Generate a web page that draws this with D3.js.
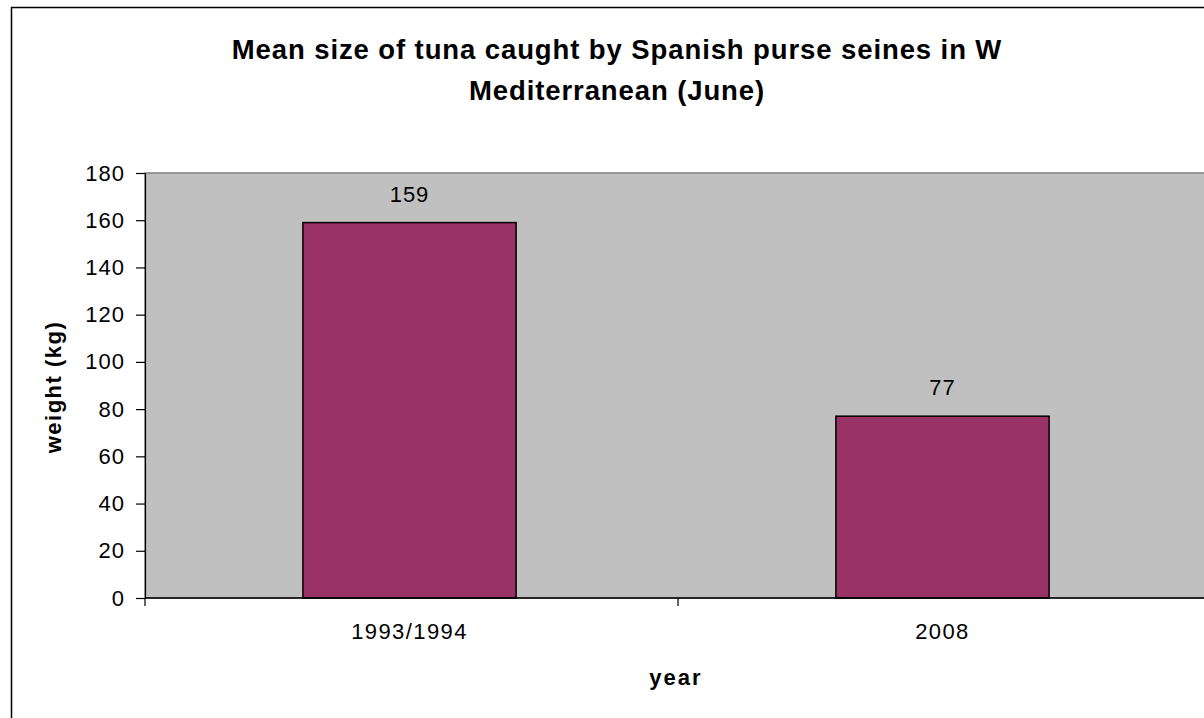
<!DOCTYPE html>
<html><head><meta charset="utf-8">
<script src="https://cdn.jsdelivr.net/npm/d3@7"></script>
<style>body{margin:0;background:#fff;} svg{display:block;font-family:"Liberation Sans",Arial,sans-serif;}</style>
</head><body>
<svg id="c" width="1204" height="718"></svg>
<script>
const categories = ["1993/1994", "2008"];
const values = [159, 77];
const yTicks = [0, 20, 40, 60, 80, 100, 120, 140, 160, 180];
const titleLines = ["Mean size of tuna caught by Spanish purse seines in W", "Mediterranean (June)"];

const svg = d3.select("#c");
const L = 145, T = 173, R = 1211, B = 598;
const FONT = "Liberation Sans, Arial, sans-serif";

svg.append("rect").attr("x", 11.5).attr("y", 7.5).attr("width", 1224).attr("height", 730)
  .attr("fill", "#fff").attr("stroke", "#000").attr("stroke-width", 1.5);

const x = d3.scaleBand().domain(categories).range([L, R]).paddingInner(0.6).paddingOuter(0.3);
const xc = d3.scaleBand().domain(categories).range([L, R]);
const y = d3.scaleLinear().domain([0, 180]).range([B, T]);

svg.append("rect").attr("x", L).attr("y", T).attr("width", R - L).attr("height", B - T)
  .attr("fill", "#C0C0C0").attr("stroke", "#808080").attr("stroke-width", 1.5);

svg.selectAll(".bar").data(values).enter().append("rect")
  .attr("x", (d, i) => x(categories[i]) - 2)
  .attr("y", d => y(d))
  .attr("width", x.bandwidth())
  .attr("height", d => B - y(d))
  .attr("fill", "#993366").attr("stroke", "#000").attr("stroke-width", 1.5);

svg.selectAll(".vl").data(values).enter().append("text")
  .attr("x", (d, i) => x(categories[i]) - 2 + x.bandwidth() / 2)
  .attr("y", d => y(d) - 21)
  .attr("text-anchor", "middle").attr("font-size", 22).attr("letter-spacing", 1).attr("fill", "#000")
  .text(d => d);

// y axis
const ya = svg.append("g").attr("transform", `translate(${L},0)`)
  .call(d3.axisLeft(y).tickValues(yTicks).tickSize(9).tickPadding(11).tickSizeOuter(0));
ya.select(".domain").attr("stroke", "#000").attr("stroke-width", 1.2);
ya.selectAll(".tick line").attr("stroke", "#000").attr("stroke-width", 1.2);
ya.selectAll("text").attr("font-size", 22).attr("letter-spacing", 1).attr("fill", "#000").attr("font-family", FONT);

// x axis
const xa = svg.append("g").attr("transform", `translate(0,${B})`);
xa.append("line").attr("x1", L).attr("x2", R).attr("y1", 0).attr("y2", 0).attr("stroke", "#000").attr("stroke-width", 1.5);
const bounds = categories.map(c => xc(c)).concat([R]);
xa.selectAll(".xt").data(bounds).enter().append("line")
  .attr("x1", d => d).attr("x2", d => d).attr("y1", 0).attr("y2", 8)
  .attr("stroke", "#000").attr("stroke-width", 1.2);
xa.selectAll(".xl").data(categories).enter().append("text")
  .attr("x", d => xc(d) + xc.bandwidth() / 2 - 2).attr("y", 41)
  .attr("text-anchor", "middle").attr("font-size", 22).attr("letter-spacing", 1.4).attr("fill", "#000").text(d => d);

svg.append("text").attr("x", 676).attr("y", 685).attr("text-anchor", "middle")
  .attr("font-size", 22).attr("letter-spacing", 2).attr("font-weight", "bold").text("year");

svg.append("text").attr("transform", "translate(61,387) rotate(-90)").attr("text-anchor", "middle")
  .attr("font-size", 22).attr("letter-spacing", 1.5).attr("font-weight", "bold").text("weight (kg)");

svg.selectAll(".tt").data(titleLines).enter().append("text")
  .attr("x", 617).attr("y", (d, i) => 59 + i * 41).attr("text-anchor", "middle")
  .attr("font-size", 27.5).attr("letter-spacing", 0.9).attr("font-weight", "bold").text(d => d);
</script>
</body></html>
